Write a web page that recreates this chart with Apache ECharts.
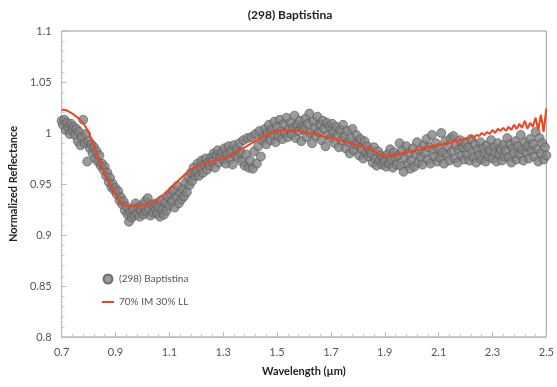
<!DOCTYPE html>
<html>
<head>
<meta charset="utf-8">
<script src="https://cdn.jsdelivr.net/npm/echarts@6/dist/echarts.min.js"></script>
<style>html,body{margin:0;padding:0;background:#fff}#chart{width:557px;height:387px}</style>
</head>
<body>
<div id="chart"></div>
<script>
// ---- Data ----
const chartTitle = '(298) Baptistina';
const xAxisTitle = 'Wavelength (\u00b5m)';
const yAxisTitle = 'Normalized Reflectance';
const seriesNames = ['(298) Baptistina', '70% IM 30% LL'];

// Asteroid spectrum samples: wavelength grid start/step and reflectance read per 0.005 um
const spectrumStart = 0.70;
const spectrumStep = 0.005;
const spectrumReflectance = [
  1.012,1.008,1.013,1.003,1.010,1.005,0.999,1.009,1.002,1.006,
  0.998,1.004,0.992,1.001,0.988,0.996,1.013,0.990,0.999,0.972,
  0.992,0.985,0.989,0.980,0.986,0.975,0.982,0.972,0.978,0.968,
  0.970,0.964,0.967,0.958,0.961,0.952,0.956,0.947,0.950,0.944,
  0.946,0.940,0.943,0.934,0.937,0.930,0.933,0.924,0.928,0.920,
  0.913,0.922,0.917,0.926,0.919,0.931,0.921,0.927,0.918,0.924,
  0.929,0.920,0.933,0.923,0.936,0.925,0.919,0.930,0.922,0.927,
  0.931,0.921,0.928,0.918,0.934,0.925,0.920,0.932,0.924,0.938,
  0.929,0.940,0.933,0.944,0.927,0.937,0.948,0.931,0.941,0.935,
  0.945,0.938,0.951,0.942,0.957,0.949,0.961,0.953,0.966,0.958,
  0.962,0.970,0.958,0.967,0.973,0.961,0.969,0.975,0.964,0.971,
  0.968,0.976,0.972,0.980,0.966,0.978,0.983,0.971,0.977,0.981,
  0.974,0.985,0.970,0.979,0.987,0.975,0.982,0.969,0.988,0.978,
  0.984,0.976,0.990,0.981,0.972,0.993,0.968,0.979,0.995,0.966,
  0.973,0.996,0.965,0.982,0.999,0.970,0.987,1.002,0.977,0.993,
  0.996,1.004,0.989,1.000,1.008,0.993,1.003,0.998,1.011,0.991,
  1.006,0.997,1.013,1.002,0.994,1.009,1.000,1.015,0.996,1.004,
  1.010,0.999,1.005,1.017,0.995,1.008,1.002,1.012,0.992,1.006,
  1.003,1.014,0.996,1.009,1.019,1.000,0.990,1.011,1.005,0.997,
  1.016,1.001,1.008,0.993,1.012,1.004,0.987,1.010,0.998,1.006,
  0.995,1.009,1.001,0.990,1.006,0.998,0.986,1.003,0.993,1.008,
  0.997,0.985,1.002,0.991,0.980,0.995,1.004,0.983,0.989,0.998,
  0.988,0.978,0.994,0.984,0.975,0.992,0.981,0.987,0.977,0.983,
  0.980,0.971,0.986,0.975,0.968,0.982,0.973,0.978,0.969,0.976,
  0.972,0.967,0.979,0.970,0.984,0.974,0.966,0.981,0.976,0.969,
  0.978,0.990,0.968,0.983,0.962,0.975,0.987,0.970,0.980,0.965,
  0.973,0.985,0.967,0.979,0.991,0.971,0.983,0.976,0.969,0.988,
  0.980,0.994,0.974,0.986,0.970,0.998,0.983,0.977,0.990,0.972,
  0.985,0.976,1.000,0.981,0.970,0.992,0.979,0.987,0.973,0.995,
  0.982,0.997,0.975,0.988,0.971,0.984,0.993,0.978,0.986,0.974,
  0.990,0.979,0.986,0.973,0.994,0.982,0.976,0.989,0.971,0.984,
  0.978,0.991,0.974,0.985,0.980,0.972,0.988,0.977,0.983,0.993,
  0.975,0.986,0.981,0.972,0.990,0.979,0.984,0.973,0.988,0.977,
  0.983,0.995,0.976,0.989,0.971,0.985,0.980,0.992,0.974,0.987,
  0.979,0.998,0.984,0.973,0.991,0.981,0.987,0.975,0.994,0.983,
  0.989,0.977,1.001,0.984,0.972,0.995,0.980,0.990,0.974,0.986,0.978
];

// Model spectrum (70% IM 30% LL)
const modelWavelength = [
  0.70,0.72,0.74,0.76,0.78,0.80,0.82,0.84,0.86,0.88,0.90,0.92,0.94,0.96,0.98,
  1.00,1.02,1.04,1.06,1.08,1.10,1.12,1.14,1.16,1.18,1.20,1.22,1.24,1.26,1.28,
  1.30,1.32,1.34,1.36,1.38,1.40,1.42,1.44,1.46,1.48,1.50,1.52,1.54,1.56,1.58,
  1.60,1.62,1.64,1.66,1.68,1.70,
  1.71,1.72,1.73,1.74,1.75,1.76,1.77,1.78,1.79,1.80,
  1.81,1.82,1.83,1.84,1.85,1.86,1.87,1.88,1.89,1.90,
  1.91,1.92,1.93,1.94,1.95,1.96,1.97,1.98,1.99,2.00,
  2.01,2.02,2.03,2.04,2.05,2.06,2.07,2.08,2.09,2.10,
  2.11,2.12,2.13,2.14,2.15,2.16,2.17,2.18,2.19,2.20,
  2.21,2.22,2.23,2.24,2.25,2.26,2.27,2.28,2.29,2.30,
  2.31,2.32,2.33,2.34,2.35,2.36,2.37,2.38,2.39,2.40,
  2.41,2.42,2.43,2.44,2.45,2.46,2.47,2.48,2.49,2.50
];
const modelReflectance = [
  1.023,1.022,1.019,1.015,1.010,1.001,0.988,0.973,0.961,0.950,0.940,0.932,0.929,0.928,0.929,
  0.929,0.930,0.932,0.936,0.940,0.945,0.950,0.955,0.960,0.964,0.967,0.969,0.971,0.972,0.974,
  0.975,0.977,0.980,0.983,0.986,0.989,0.992,0.995,0.998,1.000,1.002,1.003,1.002,1.003,1.002,
  1.001,1.000,0.999,0.998,0.996,0.995,
  0.994,0.994,0.992,0.993,0.991,0.991,0.990,0.990,0.988,0.989,
  0.987,0.987,0.985,0.986,0.984,0.982,0.981,0.979,0.978,0.979,
  0.978,0.977,0.979,0.978,0.980,0.979,0.981,0.980,0.982,0.981,
  0.983,0.984,0.983,0.986,0.985,0.987,0.986,0.988,0.987,0.989,
  0.988,0.990,0.989,0.991,0.990,0.993,0.991,0.994,0.993,0.995,
  0.994,0.997,0.995,0.998,0.997,1.000,0.998,1.001,0.999,1.003,
  1.000,1.004,1.002,1.005,1.002,1.006,1.003,1.008,1.004,1.009,
  1.005,1.012,1.004,1.010,1.006,1.015,1.003,1.018,1.001,1.024
];

const xTicks = { min: 0.7, max: 2.5, interval: 0.2 };
const yTicks = { min: 0.8, max: 1.1, interval: 0.05 };

// ---- Build ----
const spectrumData = spectrumReflectance.map((v, i) => [+(spectrumStart + i * spectrumStep).toFixed(3), v]);
const modelData = modelWavelength.map((w, i) => [w, modelReflectance[i]]);

const FONT = 'Lato';
const RED = '#f0441e';
const chart = echarts.init(document.getElementById('chart'), null, { renderer: 'canvas' });
chart.setOption({
  animation: false,
  backgroundColor: '#fff',
  title: {
    text: chartTitle, left: 285, top: 4, textAlign: 'center',
    textStyle: { fontFamily: FONT, fontSize: 12, fontWeight: 'bold', color: '#222' }
  },
  legend: {
    orient: 'vertical', left: 97, top: 267, itemGap: 9,
    itemWidth: 12, itemHeight: 9,
    textStyle: { fontFamily: FONT, fontSize: 10, color: '#555', lineHeight: 14 },
    data: [
      { name: seriesNames[0], icon: 'circle' },
      { name: seriesNames[1], icon: 'path://M0,0 L24,0 L24,4 L0,4 Z' }
    ]
  },
  grid: { left: 56, right: 9, top: 31, bottom: 50, show: true, borderColor: '#999', borderWidth: 1, backgroundColor: 'transparent' },
  xAxis: {
    type: 'value', min: xTicks.min, max: xTicks.max, interval: xTicks.interval,
    name: xAxisTitle, nameLocation: 'middle', nameGap: 29,
    nameTextStyle: { fontFamily: FONT, fontSize: 11, fontWeight: 'bold', color: '#222' },
    axisLine: { show: true, lineStyle: { color: '#bbb' } },
    axisTick: { show: true, inside: true, length: 5, lineStyle: { color: '#bbb' } },
    minorTick: { show: true, splitNumber: 5, length: 3, lineStyle: { color: '#ccc' } },
    splitLine: { show: false },
    axisLabel: { fontFamily: FONT, fontSize: 11, color: '#555', margin: 10, formatter: v => String(+v.toFixed(1)) }
  },
  yAxis: {
    type: 'value', min: yTicks.min, max: yTicks.max, interval: yTicks.interval,
    name: yAxisTitle, nameLocation: 'middle', nameGap: 38, nameRotate: 90,
    nameTextStyle: { fontFamily: FONT, fontSize: 11, fontWeight: 'bold', color: '#222' },
    axisLine: { show: true, lineStyle: { color: '#bbb' } },
    axisTick: { show: true, inside: true, length: 5, lineStyle: { color: '#bbb' } },
    minorTick: { show: true, splitNumber: 5, length: 3, lineStyle: { color: '#ccc' } },
    splitLine: { show: false },
    axisLabel: { fontFamily: FONT, fontSize: 11, color: '#555', margin: 10, formatter: v => String(+v.toFixed(2)) }
  },
  series: [
    {
      name: seriesNames[0], type: 'scatter', data: spectrumData,
      symbol: 'circle', symbolSize: 9,
      itemStyle: { color: '#828282', borderColor: '#555', borderWidth: 0.8 },
      clip: true, z: 2
    },
    {
      name: seriesNames[1], type: 'line', data: modelData,
      symbol: 'none', showSymbol: false,
      lineStyle: { color: RED, width: 2 },
      itemStyle: { color: RED },
      clip: true, z: 3
    }
  ]
});
</script>
</body>
</html>
